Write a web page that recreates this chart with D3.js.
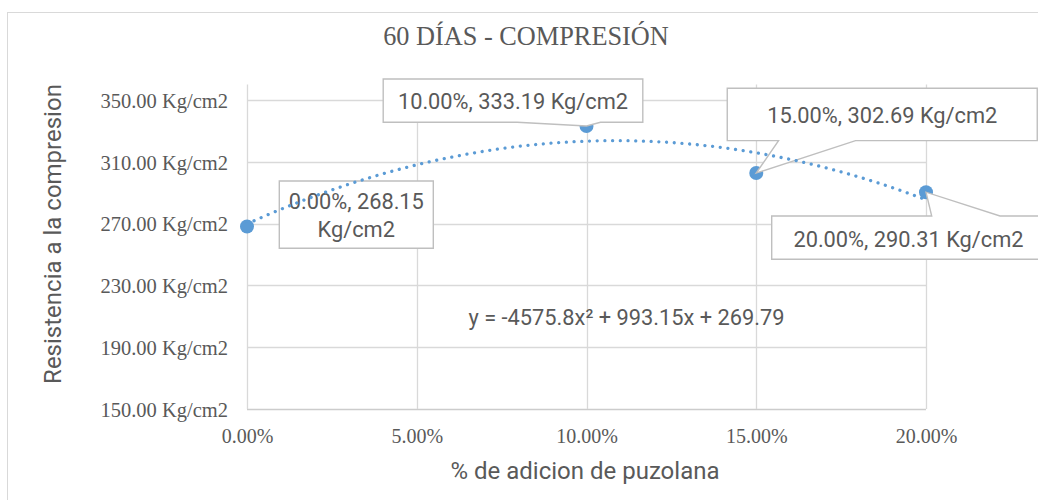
<!DOCTYPE html>
<html>
<head>
<meta charset="utf-8">
<script src="https://cdn.jsdelivr.net/npm/d3@7"></script>
<style>
  html, body { margin: 0; padding: 0; background: #ffffff; }
  svg { display: block; }
</style>
</head>
<body>
<svg id="chart" width="1038" height="500"></svg>
<script>
// ---------- data ----------
const titleText = "60 DÍAS - COMPRESIÓN";
const xAxisTitle = "% de adicion de puzolana";
const yAxisTitle = "Resistencia a la compresion";
const xValues = [0.00, 0.10, 0.15, 0.20];
const yValues = [268.15, 333.19, 302.69, 290.31];
const xTicks = [0.00, 0.05, 0.10, 0.15, 0.20];
const yTicks = [150, 190, 230, 270, 310, 350];
const yDomain = [150, 360];
const trendCoef = [-4575.8, 993.15, 269.79]; // a x^2 + b x + c
const equationText = "y = -4575.8x² + 993.15x + 269.79";

// ---------- layout ----------
const W = 1038, H = 500;
const plot = { left: 247, right: 926, top: 84.5, bottom: 409 };
const grey = "#595959";
const gridCol = "#d9d9d9";
const blue = "#5b9bd5";
const serif = "'Liberation Serif', 'Times New Roman', serif";
const sans = "Roboto, 'Open Sans', sans-serif";

// label boxes, offsets in px relative to each point
const labelLayout = [
  { box: [32.3, -45.5, 186.3, 21.8], lines: 2, wedge: null },
  { box: [-203.3, -47, 56.3, -3.7], lines: 1, wedge: { side: "bottom", a: -69.3, b: 14 } },
  { box: [-29, -84.8, 281, -32.4], lines: 1, wedge: { side: "bottom", a: 22.3, b: 99.3 } },
  { box: [-154.3, 23.8, 119.3, 67.1], lines: 1, wedge: { side: "top", a: 5.7, b: 74 } }
];

const svg = d3.select("#chart");

const x = d3.scaleLinear().domain([xTicks[0], xTicks[xTicks.length - 1]]).range([plot.left, plot.right]);
const y = d3.scaleLinear().domain(yDomain).range([plot.bottom, plot.top]);

// outer chart border (cropped at right and bottom)
svg.append("rect")
  .attr("x", 7.5).attr("y", 12.5)
  .attr("width", W + 20).attr("height", H + 20)
  .attr("fill", "#ffffff").attr("stroke", gridCol).attr("stroke-width", 1);

// gridlines
const grid = svg.append("g");
grid.selectAll("line.h").data(yTicks).join("line")
  .attr("x1", plot.left).attr("x2", plot.right)
  .attr("y1", d => Math.round(y(d)) + 0.5).attr("y2", d => Math.round(y(d)) + 0.5)
  .attr("stroke", d => d === yDomain[0] ? "#cccccc" : gridCol).attr("stroke-width", 1.3);
grid.selectAll("line.v").data(xTicks).join("line")
  .attr("x1", d => Math.round(x(d)) + 0.5).attr("x2", d => Math.round(x(d)) + 0.5)
  .attr("y1", plot.top).attr("y2", plot.bottom)
  .attr("stroke", gridCol).attr("stroke-width", 1.3);

// axes (labels only)
const yAxis = d3.axisLeft(y).tickValues(yTicks).tickSize(0).tickPadding(19)
  .tickFormat(d => d.toFixed(2) + " Kg/cm2");
const gy = svg.append("g").attr("transform", `translate(${plot.left},0)`).call(yAxis);
gy.select(".domain").remove();
gy.selectAll("text").attr("fill", grey).attr("font-family", serif).attr("font-size", "20.5px")
  .attr("dy", "0.36em");

const xAxis = d3.axisBottom(x).tickValues(xTicks).tickSize(0).tickPadding(0)
  .tickFormat(d => (d * 100).toFixed(2) + "%");
const gx = svg.append("g").attr("transform", `translate(0,${plot.bottom})`).call(xAxis);
gx.select(".domain").remove();
gx.selectAll("text").attr("fill", grey).attr("font-family", serif).attr("font-size", "20px")
  .attr("y", 34).attr("dy", "0");

// markers
const pts = xValues.map((v, i) => ({ x: v, y: yValues[i] }));
svg.append("g").selectAll("circle").data(pts).join("circle")
  .attr("cx", d => x(d.x)).attr("cy", d => y(d.y)).attr("r", 7)
  .attr("fill", blue);

// data label callouts
function calloutPath(px, py, L) {
  const [bx0, by0, bx1, by1] = L.box;
  const x0 = px + bx0, y0 = py + by0, x1 = px + bx1, y1 = py + by1;
  if (!L.wedge) return `M${x0},${y0}H${x1}V${y1}H${x0}Z`;
  const a = px + L.wedge.a, b = px + L.wedge.b;
  if (L.wedge.side === "bottom")
    return `M${x0},${y0}H${x1}V${y1}H${b}L${px},${py}L${a},${y1}H${x0}Z`;
  return `M${x0},${y0}H${a}L${px},${py}L${b},${y0}H${x1}V${y1}H${x0}Z`;
}
const labG = svg.append("g");
pts.forEach((d, i) => {
  const L = labelLayout[i];
  const px = x(d.x), py = y(d.y);
  labG.append("path").attr("d", calloutPath(px, py, L))
    .attr("fill", "#ffffff").attr("stroke", "#bfbfbf").attr("stroke-width", 1.4);
  const txt = `${(d.x * 100).toFixed(2)}%, ${d.y.toFixed(2)} Kg/cm2`;
  const lines = L.lines === 2 ? [txt.replace(/ Kg\/cm2$/, ""), "Kg/cm2"] : [txt];
  const cx = px + (L.box[0] + L.box[2]) / 2;
  const cy = py + (L.box[1] + L.box[3]) / 2;
  lines.forEach((t, k) => {
    labG.append("text")
      .attr("x", cx).attr("y", cy + 8.9 + (k - (lines.length - 1) / 2) * 28)
      .attr("text-anchor", "middle").attr("fill", grey)
      .attr("font-family", sans).attr("font-size", "21.8px").text(t);
  });
});

// polynomial trendline
const trendX = d3.range(0, 201).map(i => xTicks[0] + (xTicks[xTicks.length - 1] - xTicks[0]) * i / 200);
const trendPts = trendX.map(v => [v, trendCoef[0] * v * v + trendCoef[1] * v + trendCoef[2]]);
svg.append("path")
  .attr("d", d3.line().x(d => x(d[0])).y(d => y(d[1]))(trendPts))
  .attr("fill", "none").attr("stroke", blue).attr("stroke-width", 3.3)
  .attr("stroke-linecap", "round").attr("stroke-dasharray", "0.01 7.7");

// equation
svg.append("text").attr("x", 626.5).attr("y", 325).attr("text-anchor", "middle")
  .attr("fill", grey).attr("font-family", sans).attr("font-size", "21.8px").text(equationText);

// title
svg.append("text").attr("x", 526).attr("y", 45).attr("text-anchor", "middle")
  .attr("fill", grey).attr("font-family", serif).attr("font-size", "26.3px").text(titleText);

// axis titles
svg.append("text").attr("x", 585).attr("y", 478.5).attr("text-anchor", "middle")
  .attr("fill", grey).attr("font-family", sans).attr("font-size", "24px").text(xAxisTitle);
svg.append("text").attr("transform", "translate(61,234) rotate(-90)").attr("text-anchor", "middle")
  .attr("fill", grey).attr("font-family", sans).attr("font-size", "24px").text(yAxisTitle);
</script>
</body>
</html>
